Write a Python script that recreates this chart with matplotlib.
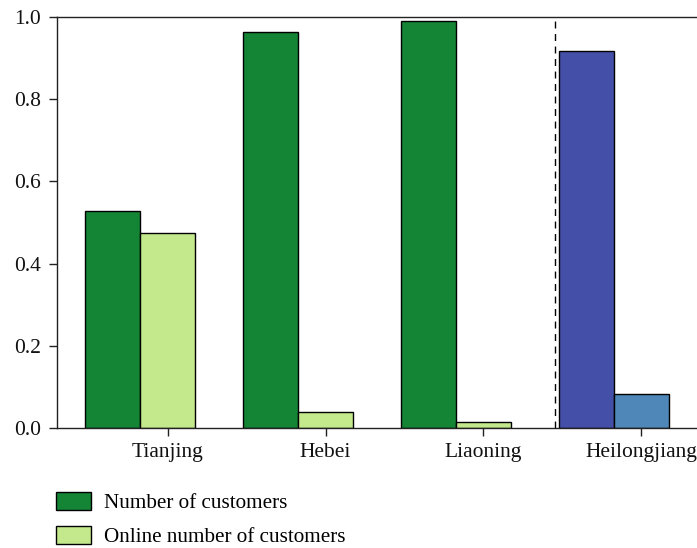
import matplotlib
matplotlib.use("Agg")
import matplotlib.pyplot as plt
import numpy as np

regions = ["Tianjing", "Hebei", "Liaoning", "Heilongjiang"]
customers = [0.527, 0.963, 0.990, 0.918]
online = [0.474, 0.040, 0.014, 0.083]
yticks = [0.0, 0.2, 0.4, 0.6, 0.8, 1.0]

plt.rcParams['font.family'] = ['Liberation Serif', 'DejaVu Serif']

fig = plt.figure(figsize=(6.97, 5.48), dpi=100)
W, H = 697, 548
ax = fig.add_axes([57 / W, 1 - 428 / H, 695 / W, 411 / H])

x = np.arange(len(regions))
w = 0.35
c1 = ['#138535'] * 3 + ['#444fa8']
c2 = ['#c3e98c'] * 3 + ['#4f87b8']
b1 = ax.bar(x - w, customers, width=w, color=c1, edgecolor='black', linewidth=1.0,
            label='Number of customers')
b2 = ax.bar(x, online, width=w, color=c2, edgecolor='black', linewidth=1.0,
            label='Online number of customers')
ax.axvline(2.45, color='black', linestyle=(0, (5, 4)), linewidth=1.0)

ax.set_xlim(-0.7, 3.7)
ax.set_ylim(0, 1.0)
ax.set_xticks(x)
ax.set_xticklabels(regions)
ax.set_yticks(yticks)
ax.set_yticklabels([f"{v:.1f}" for v in yticks])
ax.tick_params(axis='both', labelsize=15.5, direction='out', length=5.5, width=1.0,
               colors='#222222', labelcolor='#111111')
ax.tick_params(axis='y', pad=6)
ax.tick_params(axis='x', pad=5)
for s in ['left', 'bottom', 'top']:
    ax.spines[s].set_linewidth(1.0)
    ax.spines[s].set_color('#222222')
ax.spines['right'].set_visible(False)

fig.legend(handles=[b1, b2], labels=['Number of customers', 'Online number of customers'],
           loc='upper left', bbox_to_anchor=(48 / W, 1 - 484 / H), frameon=False,
           fontsize=15.2, handlelength=1.65, handleheight=0.88, handletextpad=0.6,
           labelspacing=0.62, borderaxespad=0)

fig.savefig("out.png", dpi=100)
